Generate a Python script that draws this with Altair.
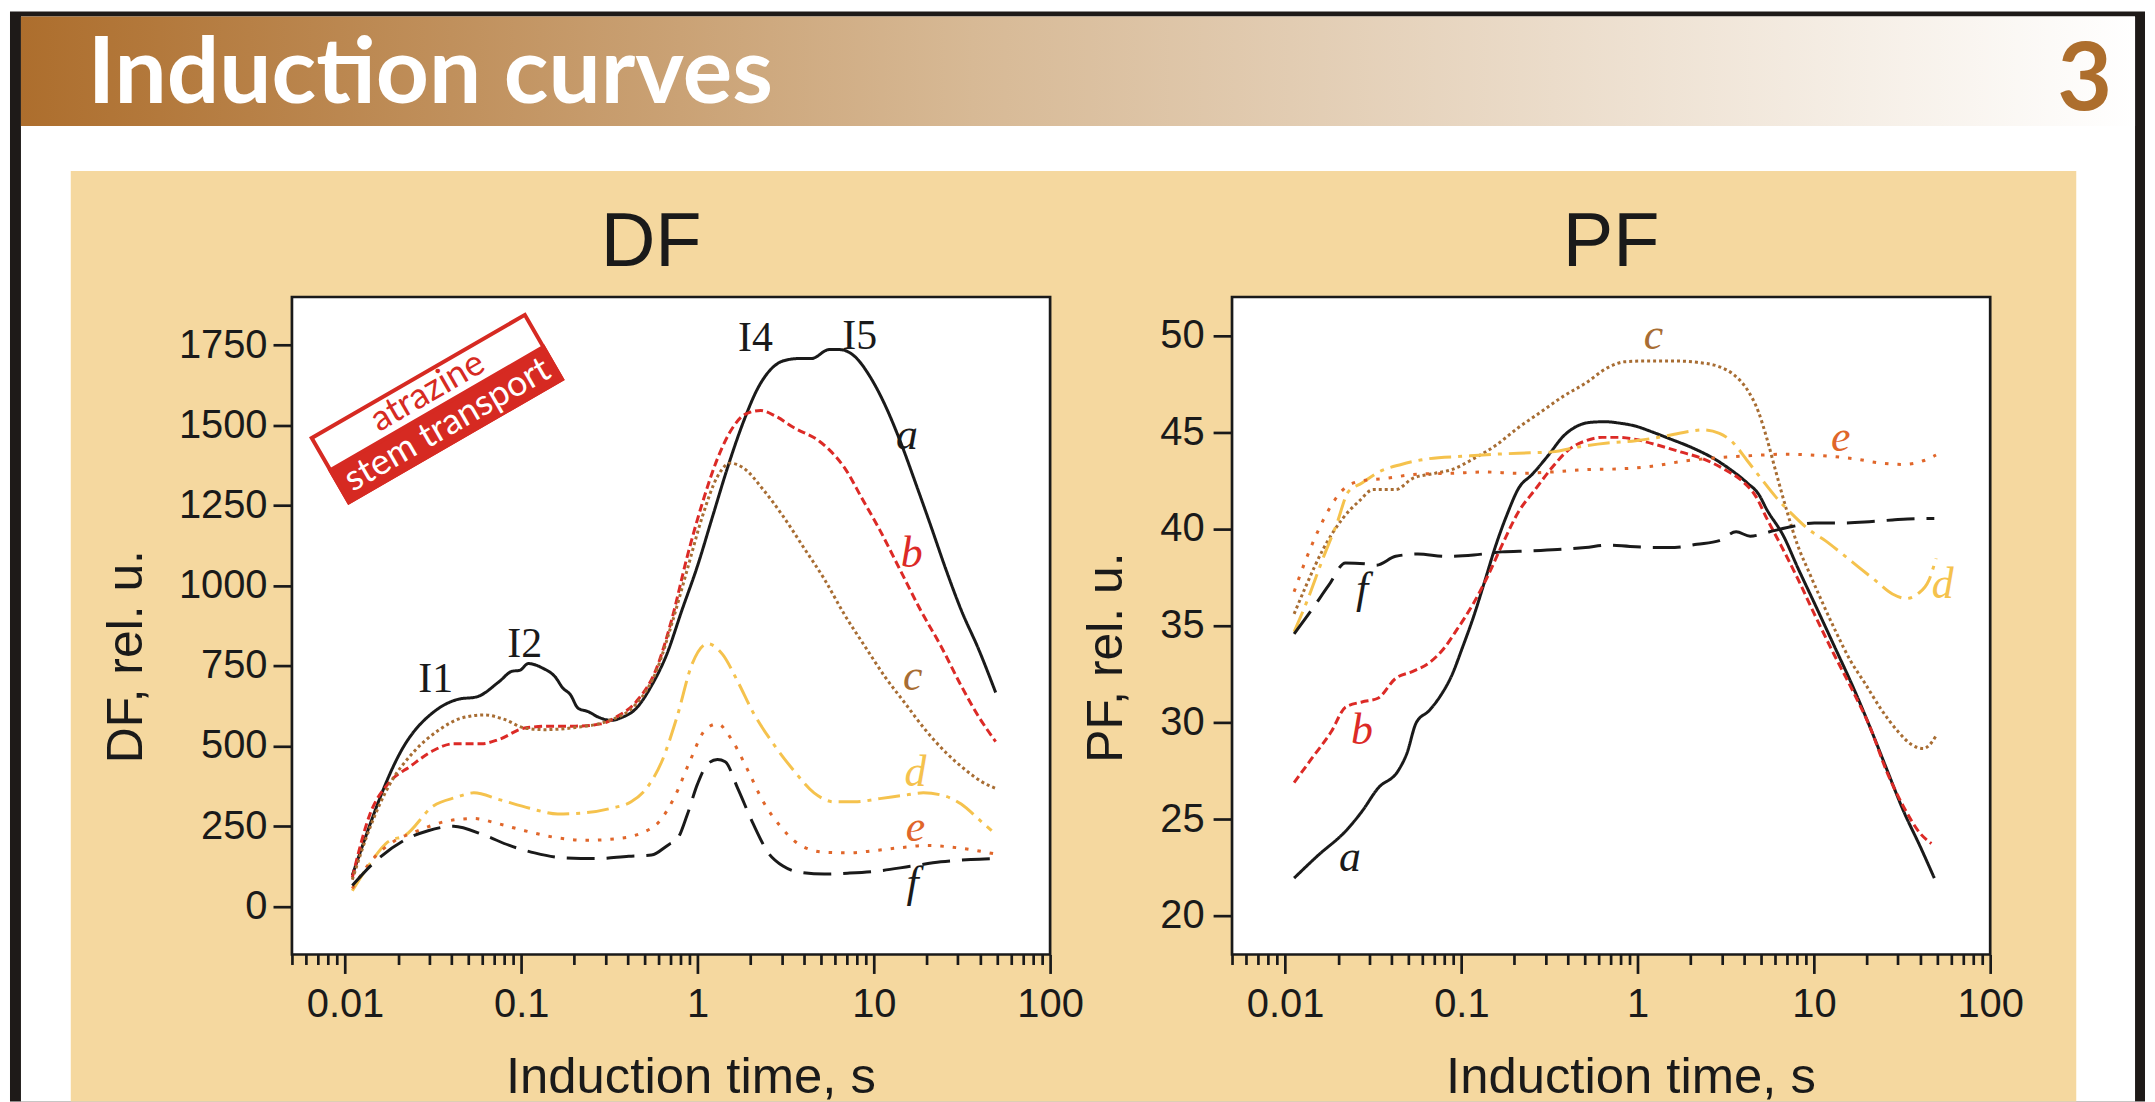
import altair as alt
import pandas as pd

# ---------------- data ----------------
# DF panel
df_a_t = [0.011, 0.022, 0.0327, 0.0441, 0.0557, 0.075, 0.0886, 0.098, 0.1096, 0.132, 0.156, 0.172, 0.19, 0.21, 0.24, 0.274, 0.323, 0.368, 0.45, 0.548, 0.668, 0.816, 1.0, 1.216, 1.48, 1.81, 2.21, 2.6, 3.07, 3.75, 4.43, 5.58, 6.37, 7.78, 9.48, 11.6, 14.1, 17.8, 21.0, 25.7, 31.3, 39.5, 49.1]
df_a_v = [97, 507, 611, 646, 653, 701, 733, 736, 757, 743, 715, 681, 660, 618, 607, 590, 580, 588, 618, 688, 785, 924, 1062, 1215, 1368, 1507, 1618, 1674, 1701, 1708, 1708, 1736, 1736, 1715, 1653, 1562, 1451, 1299, 1188, 1049, 924, 799, 667]

df_b_t = [0.011, 0.0138, 0.018, 0.0235, 0.0317, 0.0413, 0.0595, 0.075, 0.1045, 0.146, 0.203, 0.283, 0.345, 0.45, 0.586, 0.715, 0.873, 1.064, 1.297, 1.585, 1.87, 2.28, 2.78, 3.51, 4.89, 5.58, 6.81, 8.59, 10.8, 14.1, 18.4, 24.0, 31.3, 39.5, 49.1]
df_b_v = [90, 285, 389, 437, 486, 507, 507, 521, 556, 562, 562, 569, 590, 639, 743, 896, 1090, 1257, 1396, 1493, 1535, 1546, 1528, 1493, 1451, 1424, 1368, 1271, 1174, 1049, 924, 812, 688, 590, 514]

df_c_t = [0.011, 0.0138, 0.018, 0.0243, 0.0339, 0.0457, 0.0616, 0.0802, 0.1045, 0.136, 0.203, 0.302, 0.45, 0.586, 0.715, 0.873, 1.064, 1.297, 1.53, 1.81, 2.36, 3.07, 4.01, 5.23, 6.81, 8.87, 11.6, 15.1, 19.7, 25.7, 33.4, 40.8, 49.1]
df_c_v = [83, 243, 382, 479, 549, 587, 597, 583, 556, 551, 558, 576, 632, 736, 882, 1049, 1215, 1340, 1382, 1368, 1299, 1215, 1118, 1021, 910, 812, 715, 632, 549, 479, 424, 389, 368]

df_d_t = [0.011, 0.0138, 0.0175, 0.022, 0.0317, 0.0427, 0.0538, 0.075, 0.1117, 0.161, 0.232, 0.323, 0.42, 0.513, 0.626, 0.764, 0.933, 1.14, 1.39, 1.69, 2.07, 2.69, 3.51, 4.58, 5.97, 7.78, 10.8, 15.1, 19.1, 25.7, 31.3, 39.5, 46.6]
df_d_v = [49, 132, 201, 222, 313, 340, 354, 333, 306, 288, 292, 306, 326, 368, 451, 590, 757, 819, 785, 701, 604, 507, 424, 354, 326, 326, 336, 347, 354, 343, 319, 271, 236]

df_e_t = [0.011, 0.0143, 0.0187, 0.026, 0.0387, 0.0538, 0.075, 0.1045, 0.156, 0.232, 0.345, 0.481, 0.605, 0.739, 0.902, 1.1, 1.297, 1.585, 1.93, 2.36, 2.88, 3.75, 5.23, 7.28, 10.1, 14.1, 19.7, 27.4, 38.2, 48.2]
df_e_v = [56, 146, 201, 236, 267, 274, 257, 236, 215, 206, 211, 229, 264, 340, 451, 549, 569, 514, 424, 326, 257, 194, 169, 167, 174, 183, 190, 185, 174, 164]

df_f_t = [0.011, 0.0143, 0.022, 0.0296, 0.0413, 0.0616, 0.0857, 0.119, 0.178, 0.264, 0.407, 0.548, 0.692, 0.764, 0.873, 1.0, 1.14, 1.297, 1.435, 1.69, 2.07, 2.52, 3.07, 3.75, 5.23, 7.28, 10.8, 16.1, 24.0, 35.7, 48.2]
df_f_v = [65, 132, 208, 236, 250, 222, 190, 167, 151, 149, 156, 160, 194, 208, 285, 382, 444, 458, 451, 368, 257, 167, 125, 107, 101, 104, 111, 125, 139, 146, 149]

# PF panel
pf_a_t = [0.01125, 0.01527, 0.0223, 0.0273, 0.0336, 0.044, 0.049, 0.0555, 0.0656, 0.0759, 0.0879, 0.1016, 0.1175, 0.136, 0.157, 0.182, 0.211, 0.253, 0.315, 0.378, 0.453, 0.544, 0.653, 0.784, 0.975, 1.21, 1.51, 2.02, 2.71, 3.37, 4.19, 4.85, 5.41, 6.73, 8.08, 10.05, 12.97, 16.7, 20.8, 25.9, 32.3, 40.2, 48.2]
pf_a_v = [21.95, 23.1, 24.43, 25.4, 26.59, 27.53, 28.38, 29.99, 30.61, 31.36, 32.4, 33.89, 35.49, 37.33, 39.17, 40.77, 42.1, 42.84, 43.87, 44.79, 45.32, 45.52, 45.55, 45.48, 45.32, 45.02, 44.68, 44.22, 43.64, 43.07, 42.38, 41.81, 41.0, 39.63, 38.02, 36.18, 34.0, 31.82, 29.76, 27.58, 25.4, 23.56, 21.95]

pf_b_t = [0.01125, 0.0142, 0.0183, 0.022, 0.0273, 0.0336, 0.0424, 0.0527, 0.0656, 0.0787, 0.0945, 0.1175, 0.141, 0.17, 0.211, 0.262, 0.327, 0.406, 0.506, 0.63, 0.784, 0.975, 1.31, 1.75, 2.34, 3.13, 3.9, 4.68, 5.41, 6.49, 8.08, 10.05, 12.97, 16.7, 20.8, 25.9, 32.3, 40.2, 46.4]
pf_b_v = [26.89, 28.15, 29.53, 30.79, 31.06, 31.25, 32.28, 32.63, 33.08, 33.77, 34.81, 36.18, 37.56, 39.17, 40.89, 42.04, 43.18, 44.1, 44.56, 44.74, 44.74, 44.63, 44.33, 43.99, 43.64, 43.07, 42.5, 41.69, 40.54, 39.17, 37.45, 35.61, 33.54, 31.59, 29.76, 27.46, 25.63, 24.25, 23.74]

pf_c_t = [0.01125, 0.0132, 0.0164, 0.0212, 0.0264, 0.0316, 0.0424, 0.0527, 0.0706, 0.0879, 0.1175, 0.157, 0.211, 0.282, 0.378, 0.506, 0.678, 0.843, 1.128, 1.625, 2.17, 2.91, 3.49, 4.19, 4.85, 5.41, 6.04, 6.99, 8.08, 9.36, 11.2, 13.5, 16.1, 19.4, 24.1, 30.0, 36.0, 41.7, 46.4, 49.2]
pf_c_v = [35.61, 37.1, 38.94, 40.54, 41.46, 42.04, 42.04, 42.61, 42.88, 43.07, 43.64, 44.33, 45.25, 46.05, 46.86, 47.54, 48.35, 48.65, 48.69, 48.69, 48.62, 48.39, 48.0, 47.2, 46.05, 44.68, 43.07, 41.0, 39.17, 37.79, 36.18, 34.58, 33.2, 32.05, 30.67, 29.53, 28.84, 28.65, 28.95, 29.3]

pf_d_t = [0.01125, 0.0132, 0.0164, 0.0197, 0.0228, 0.0273, 0.034, 0.0456, 0.0656, 0.1016, 0.157, 0.244, 0.327, 0.47, 0.676, 0.975, 1.4, 1.88, 2.34, 2.91, 3.49, 4.19, 5.02, 6.04, 7.52, 9.36, 11.6, 14.5, 18.0, 22.4, 27.9, 33.5, 38.7, 44.8, 49.3]
pf_d_v = [34.69, 36.18, 38.48, 40.31, 41.92, 42.38, 42.95, 43.34, 43.64, 43.76, 43.87, 43.94, 43.99, 44.26, 44.45, 44.56, 44.79, 45.02, 45.13, 44.95, 44.45, 43.53, 42.61, 41.69, 40.77, 39.97, 39.4, 38.71, 38.02, 37.33, 36.64, 36.41, 36.64, 37.33, 38.48]

pf_e_t = [0.01125, 0.0132, 0.0153, 0.0183, 0.022, 0.0273, 0.0366, 0.0567, 0.0879, 0.136, 0.211, 0.327, 0.506, 0.784, 1.21, 1.88, 2.91, 4.51, 6.99, 10.8, 16.7, 24.1, 32.3, 41.7, 49.3]
pf_e_v = [36.76, 38.48, 39.86, 41.23, 42.15, 42.5, 42.61, 42.84, 42.88, 42.95, 42.88, 42.95, 43.07, 43.11, 43.25, 43.53, 43.69, 43.8, 43.87, 43.8, 43.64, 43.41, 43.34, 43.53, 43.83]

pf_f_t = [0.01125, 0.0142, 0.0177, 0.022, 0.0284, 0.0328, 0.0424, 0.0567, 0.0817, 0.1175, 0.17, 0.244, 0.351, 0.506, 0.676, 0.906, 1.21, 1.625, 2.17, 2.91, 3.62, 4.35, 5.61, 7.52, 10.05, 13.5, 19.4, 27.9, 40.2, 48.2]
pf_f_v = [34.58, 35.84, 37.1, 38.25, 38.2, 38.13, 38.59, 38.71, 38.59, 38.66, 38.82, 38.87, 38.94, 39.05, 39.17, 39.1, 39.05, 39.05, 39.21, 39.4, 39.86, 39.63, 39.86, 40.13, 40.31, 40.31, 40.36, 40.47, 40.54, 40.54]

# curve letters
curve_keys = ["a", "b", "c", "d", "e", "f"]
df_lab_t = [15.4, 16.4, 16.6, 17.2, 17.2, 16.6]
df_lab_v = [1465, 1097, 715, 417, 243, 69]
pf_lab_t = [0.0233, 0.0273, 1.23, 53.8, 14.2, 0.0273]
pf_lab_v = [22.99, 29.53, 50.0, 37.1, 44.68, 36.87]

# induction peaks (DF)
peak_txt = ["I1", "I2", "I4", "I5"]
peak_t = [0.0327, 0.1045, 2.13, 8.32]
peak_v = [708, 819, 1771, 1778]

# rotated legend box (DF)
legend_t = [0.0332]
legend_v = [1552]
legend_txt = ["atrazine", "stem transport"]
legend_txt_t = [0.0294, 0.0381]
legend_txt_v = [1605, 1502]

# titles
panel_titles = ["DF", "PF"]
header_title = "Induction curves"
header_number = "3"

# axes
x_major = [0.01, 0.1, 1, 10, 100]
x_minor = [0.005, 0.006, 0.007, 0.008, 0.009,
           0.02, 0.03, 0.04, 0.05, 0.06, 0.07, 0.08, 0.09,
           0.2, 0.3, 0.4, 0.5, 0.6, 0.7, 0.8, 0.9,
           2, 3, 4, 5, 6, 7, 8, 9,
           20, 30, 40, 50, 60, 70, 80, 90]
df_yticks = [0, 250, 500, 750, 1000, 1250, 1500, 1750]
pf_yticks = [20, 25, 30, 35, 40, 45, 50]

# ---------------- styling ----------------
W, H = 761, 660
INK = "#1a1a1a"
RED = "#D62A22"
BROWN_HDR = "#AD6E2D"
TAN = "#F5D89F"
COLORS = {"a": INK, "b": "#DC2A26", "c": "#A86D33", "d": "#F5C24D", "e": "#E0662A", "f": INK}
DASHES = {"a": [1, 0], "b": [8, 4], "c": [3, 3], "d": [22, 7, 4, 7], "e": [3.5, 9], "f": [28, 12]}

MAJ_TEST = "indexof([0.01,0.1,1,10,100], datum.value) >= 0"
XSCALE = alt.Scale(type="log", domain=[0.005, 100], nice=False)


def x_axis():
    return alt.Axis(
        values=sorted(x_minor + x_major), format="~g",
        labelExpr=MAJ_TEST + " ? datum.label : ''",
        tickSize={"condition": {"test": MAJ_TEST, "value": 19}, "value": 10},
        labelFontSize=40, labelPadding=11, labelOverlap=False, labelFlush=False, labelBound=False,
        title="Induction time, s", titleFontSize=51, titleX=400, titleY=138.5,
        titleBaseline="alphabetic", titleAlign="center", zindex=1,
    )


def y_axis(title, ticks, pad, tx, ty):
    return alt.Axis(
        values=ticks, format="d", tickSize=19, labelFontSize=40, labelPadding=pad,
        labelOverlap=False, labelFlush=False, labelBound=False,
        title=title, titleFontSize=50, titleAngle=270, titleX=tx, titleY=ty,
        titleBaseline="alphabetic", titleAlign="center", zindex=1,
    )


def enc(ysc, yax):
    return dict(x=alt.X("t:Q", scale=XSCALE, axis=x_axis()),
                y=alt.Y("v:Q", scale=ysc, axis=yax))


def lines(curves, ysc, yax):
    out = []
    for key, (ts, vs) in zip(curve_keys, curves):
        d = pd.DataFrame({"t": ts, "v": vs})
        out.append(alt.Chart(d).mark_line(color=COLORS[key], strokeWidth=3, strokeDash=DASHES[key],
                                          interpolate="monotone").encode(**enc(ysc, yax)))
    return out


def letters(ts, vs, ysc, yax):
    d = pd.DataFrame({"t": ts, "v": vs, "txt": curve_keys, "col": [COLORS[k] for k in curve_keys]})
    return alt.Chart(d).mark_text(font="Liberation Serif", fontStyle="italic", fontSize=44,
                                  align="center", baseline="middle").encode(
        text="txt:N", color=alt.Color("col:N", scale=None), **enc(ysc, yax))


one = pd.DataFrame({"k": [0]})


def box(x1, x2, y1, y2, **kw):
    return alt.Chart(one).mark_rect(**kw).encode(x=alt.value(x1), x2=alt.value(x2),
                                                  y=alt.value(y1), y2=alt.value(y2))


def label(text, x, y, **kw):
    return alt.Chart(one).mark_text(text=text, baseline="alphabetic", **kw).encode(
        x=alt.value(x), y=alt.value(y))


# ---------------- DF panel ----------------
df_ysc = alt.Scale(domain=[-150, 1900], nice=False, zero=False)
df_yax = y_axis("DF, rel. u.", df_yticks, 6, -151, 360.5)

grad = alt.LinearGradient(gradient="linear", x1=0, x2=1, y1=0, y2=0, stops=[
    alt.GradientStop(color=BROWN_HDR, offset=0),
    alt.GradientStop(color="#D7B995", offset=0.45),
    alt.GradientStop(color="#FFFFFF", offset=1)])

deco = [
    box(-283, 1860, -286.5, 807.5, fill="#1E1A18"),
    box(-272, 1850, -281.5, 807.5, fill="white"),
    box(-272, 1850, -281.5, -171.5, fill=grad),
    box(-222, 1791, -126.5, 807.5, fill=TAN),
    box(0, W, 0, H, fill="white", stroke=INK, strokeWidth=2.7),
    label(header_title, -205, -194.5, font="Lato", fontWeight="bold", fontSize=93,
          color="white", align="left"),
    label(header_number, 1827, -187.5, font="Lato", fontWeight="bold", fontSize=95,
          color=BROWN_HDR, align="right"),
    label(panel_titles[0], W / 2 - 20, -31.5, font="Liberation Sans", fontSize=76,
          color=INK, align="center"),
]

leg_d = pd.DataFrame({"t": legend_t, "v": legend_v})
legend = [
    alt.Chart(leg_d).mark_point(shape="M-1,-0.302H1V0.302H-1Z", size=61009, angle=330, filled=True,
                                fill="white", stroke=RED, strokeWidth=4, opacity=1).encode(**enc(df_ysc, df_yax)),
    alt.Chart(leg_d).mark_point(shape="M-1,0H1V0.302H-1Z", size=61009, angle=330, filled=True,
                                fill=RED, stroke=RED, strokeWidth=4, opacity=1).encode(**enc(df_ysc, df_yax)),
    alt.Chart(pd.DataFrame({"t": legend_txt_t, "v": legend_txt_v, "txt": legend_txt,
                            "col": [RED, "white"]})).mark_text(
        font="Lato", fontSize=36, angle=330, align="center", baseline="middle").encode(
        text="txt:N", color=alt.Color("col:N", scale=None), **enc(df_ysc, df_yax)),
]

peaks = alt.Chart(pd.DataFrame({"t": peak_t, "v": peak_v, "txt": peak_txt})).mark_text(
    font="Liberation Serif", fontSize=42, color=INK, align="center", baseline="middle").encode(
    text="txt:N", **enc(df_ysc, df_yax))

df_curves = [(df_a_t, df_a_v), (df_b_t, df_b_v), (df_c_t, df_c_v),
             (df_d_t, df_d_v), (df_e_t, df_e_v), (df_f_t, df_f_v)]

left = alt.layer(*deco, *legend, *lines(df_curves, df_ysc, df_yax),
                 letters(df_lab_t, df_lab_v, df_ysc, df_yax), peaks).properties(width=W, height=H)

# ---------------- PF panel ----------------
pf_ysc = alt.Scale(domain=[18, 52], nice=False, zero=False)
pf_yax = y_axis("PF, rel. u.", pf_yticks, 9, -111, 361.5)
pf_curves = [(pf_a_t, pf_a_v), (pf_b_t, pf_b_v), (pf_c_t, pf_c_v),
             (pf_d_t, pf_d_v), (pf_e_t, pf_e_v), (pf_f_t, pf_f_v)]

right = alt.layer(
    label(panel_titles[1], W / 2, -31.5, font="Liberation Sans", fontSize=76, color=INK, align="center"),
    *lines(pf_curves, pf_ysc, pf_yax),
    letters(pf_lab_t, pf_lab_v, pf_ysc, pf_yax)).properties(width=W, height=H)

chart = alt.hconcat(left, right, spacing=182.6, bounds="flush").properties(
    padding=0, background="white"
).configure_view(fill="white", stroke=INK, strokeWidth=2.7).configure_axis(
    domain=False, grid=False, tickColor=INK, tickWidth=2.7, labelColor=INK, titleColor=INK,
    labelFont="Liberation Sans", titleFont="Liberation Sans", titleFontWeight="normal")

chart.save("out.html", embed_options={"renderer": "svg", "actions": False})
